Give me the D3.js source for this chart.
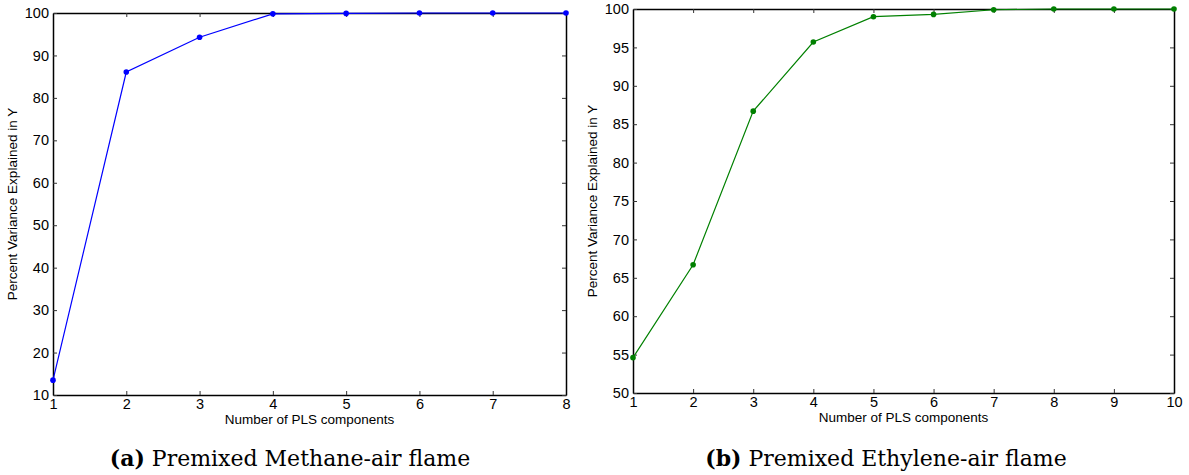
<!DOCTYPE html>
<html>
<head>
<meta charset="utf-8">
<script src="https://cdn.jsdelivr.net/npm/d3@7"></script>
<style>
  body { margin: 0; background: #fff; }
  svg text { font-family: "Liberation Sans", Arial, sans-serif; }
  svg text.cap { font-family: "DejaVu Serif", "Liberation Serif", serif; }
</style>
</head>
<body>
<div id="chart"></div>
<script>
// data
const compsA = [1, 2, 3, 4, 5, 6, 7, 8];
const varA = [13.5, 86.1, 94.3, 99.8, 99.9, 100, 100, 100];
const yTicksA = [10, 20, 30, 40, 50, 60, 70, 80, 90, 100];

const compsB = [1, 2, 3, 4, 5, 6, 7, 8, 9, 10];
const varB = [54.6, 66.7, 86.7, 95.7, 99.0, 99.3, 99.9, 100, 100, 100];
const yTicksB = [50, 55, 60, 65, 70, 75, 80, 85, 90, 95, 100];

const svg = d3.select("#chart").append("svg")
    .attr("width", 1189).attr("height", 475);

function panel(opts) {
    const x = d3.scaleLinear().domain(d3.extent(opts.comps)).range([opts.left, opts.right]);
    const y = d3.scaleLinear().domain(opts.yDomain).range([opts.bottom, opts.top]);
    const g = svg.append("g");

    // axes (ticks inward, box style)
    const ax = g.append("g").attr("transform", `translate(0,${opts.bottom})`)
        .call(d3.axisBottom(x).tickValues(opts.comps).tickFormat(d3.format("d"))
            .tickSizeInner(-4).tickSizeOuter(0).tickPadding(4));
    const axTop = g.append("g").attr("transform", `translate(0,${opts.top})`)
        .call(d3.axisTop(x).tickValues(opts.comps).tickSizeInner(-4).tickSizeOuter(0).tickFormat(""));
    const ay = g.append("g").attr("transform", `translate(${opts.left},0)`)
        .call(d3.axisLeft(y).tickValues(opts.yTicks).tickSizeInner(-4).tickSizeOuter(0).tickPadding(4));
    const ayR = g.append("g").attr("transform", `translate(${opts.right},0)`)
        .call(d3.axisRight(y).tickValues(opts.yTicks).tickSizeInner(-4).tickSizeOuter(0).tickFormat(""));
    [ax, axTop, ay, ayR].forEach(a => {
        a.select(".domain").attr("stroke", "#000").attr("stroke-width", 1.5);
        a.selectAll(".tick line").attr("stroke", "#333");
        a.selectAll("text").attr("font-size", 14.5).attr("fill", "#000");
    });

    const pts = opts.comps.map((c, i) => [c, opts.vals[i]]);
    g.append("path").datum(pts)
        .attr("fill", "none").attr("stroke", opts.color).attr("stroke-width", 1.2)
        .attr("d", d3.line().x(d => x(d[0])).y(d => y(d[1])));
    g.selectAll("circle.pt").data(pts).enter().append("circle")
        .attr("cx", d => x(d[0])).attr("cy", d => y(d[1])).attr("r", 2.8)
        .attr("fill", opts.color);

    g.append("text").attr("x", (opts.left + opts.right) / 2).attr("y", opts.bottom + 29)
        .attr("text-anchor", "middle").attr("font-size", 13.5).text("Number of PLS components");
    g.append("text")
        .attr("transform", `translate(${opts.left - 36},${(opts.top + opts.bottom) / 2}) rotate(-90)`)
        .attr("text-anchor", "middle").attr("font-size", 13.5).text("Percent Variance Explained in Y");

    const cap = g.append("text").attr("class", "cap")
        .attr("x", opts.capX).attr("y", 466).attr("text-anchor", "middle").attr("font-size", 22);
    cap.append("tspan").attr("font-weight", "bold").text(opts.capTag);
    cap.append("tspan").text(" " + opts.capText);
}

panel({
    comps: compsA, vals: varA, yTicks: yTicksA, yDomain: [10, 100],
    left: 53, right: 566, top: 13, bottom: 395, color: "#0000ff",
    capX: 290, capTag: "(a)", capText: "Premixed Methane-air flame"
});
panel({
    comps: compsB, vals: varB, yTicks: yTicksB, yDomain: [50, 100],
    left: 633, right: 1174, top: 9, bottom: 393, color: "#008000",
    capX: 886, capTag: "(b)", capText: "Premixed Ethylene-air flame"
});
</script>
</body>
</html>
